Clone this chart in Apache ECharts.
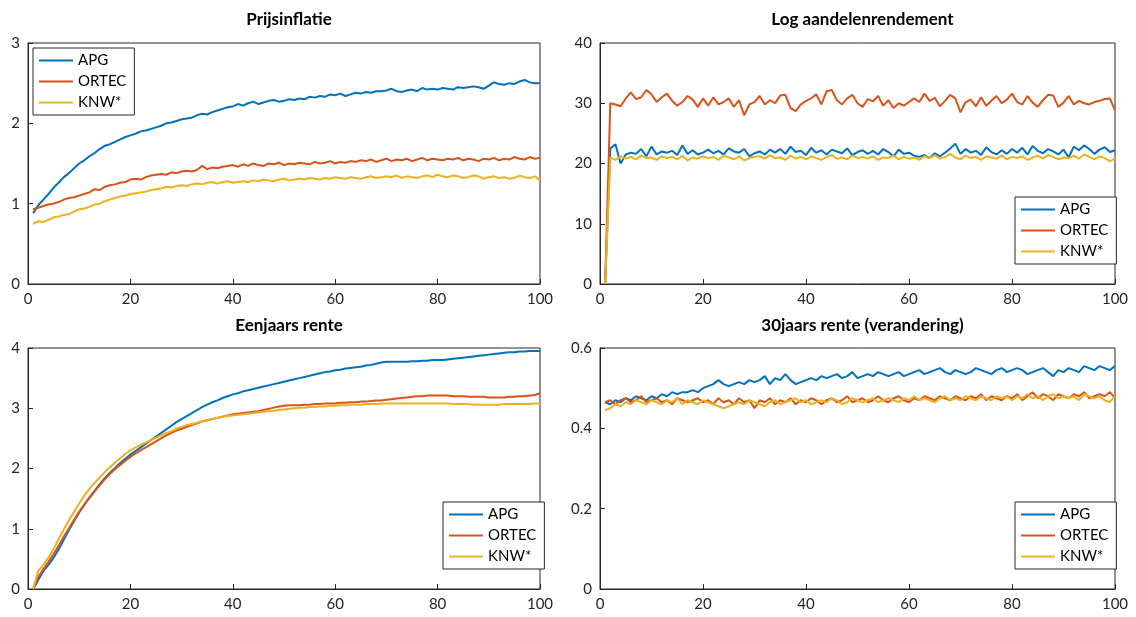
<!DOCTYPE html>
<html>
<head>
<meta charset="utf-8">
<script src="https://cdn.jsdelivr.net/npm/echarts@6/dist/echarts.min.js"></script>
<style>html,body{margin:0;padding:0;background:#fff}#chart{width:1136px;height:617px}</style>
</head>
<body>
<div id="chart"></div>
<script>
// Legend / series names
const seriesNames = ['APG', 'ORTEC', 'KNW*']
const titles = ['Prijsinflatie', 'Log aandelenrendement', 'Eenjaars rente', '30jaars rente (verandering)']

// Prijsinflatie
const inflAPG = [0.88,0.98,1.05,1.12,1.2,1.26,1.33,1.38,1.44,1.5,1.54,1.59,1.63,1.68,1.72,1.74,1.77,1.8,1.83,1.85,1.87,1.9,1.91,1.93,1.95,1.97,2.0,2.01,2.03,2.05,2.06,2.07,2.1,2.12,2.11,2.14,2.16,2.18,2.2,2.21,2.24,2.22,2.25,2.27,2.24,2.26,2.28,2.29,2.27,2.28,2.3,2.29,2.31,2.3,2.33,2.32,2.34,2.33,2.36,2.35,2.37,2.34,2.36,2.38,2.37,2.39,2.38,2.4,2.4,2.41,2.43,2.4,2.39,2.41,2.42,2.4,2.44,2.42,2.43,2.42,2.44,2.43,2.42,2.45,2.44,2.45,2.46,2.45,2.43,2.47,2.51,2.49,2.48,2.5,2.49,2.52,2.54,2.51,2.5,2.5]
const inflORTEC = [0.93,0.95,0.97,0.99,1.0,1.02,1.05,1.07,1.08,1.1,1.12,1.14,1.18,1.17,1.21,1.23,1.24,1.26,1.27,1.3,1.31,1.3,1.33,1.35,1.36,1.37,1.36,1.39,1.38,1.4,1.41,1.4,1.42,1.47,1.43,1.45,1.44,1.46,1.47,1.48,1.46,1.49,1.47,1.5,1.48,1.47,1.5,1.49,1.51,1.48,1.5,1.49,1.51,1.5,1.49,1.52,1.5,1.51,1.53,1.5,1.52,1.51,1.53,1.52,1.54,1.53,1.55,1.52,1.54,1.56,1.53,1.55,1.54,1.56,1.53,1.55,1.57,1.54,1.56,1.55,1.54,1.56,1.55,1.57,1.54,1.56,1.55,1.53,1.56,1.55,1.57,1.54,1.56,1.55,1.58,1.56,1.55,1.58,1.56,1.57]
const inflKNW = [0.75,0.78,0.77,0.8,0.83,0.84,0.86,0.87,0.9,0.93,0.94,0.96,0.99,1.0,1.03,1.05,1.07,1.09,1.1,1.12,1.13,1.14,1.15,1.17,1.18,1.19,1.21,1.2,1.22,1.23,1.22,1.24,1.25,1.24,1.26,1.27,1.25,1.27,1.28,1.26,1.27,1.28,1.27,1.29,1.28,1.3,1.29,1.28,1.3,1.31,1.29,1.3,1.31,1.3,1.32,1.31,1.3,1.32,1.31,1.33,1.32,1.31,1.33,1.32,1.31,1.33,1.34,1.32,1.33,1.34,1.33,1.35,1.32,1.34,1.33,1.32,1.34,1.35,1.33,1.36,1.34,1.33,1.35,1.34,1.32,1.33,1.35,1.34,1.31,1.33,1.34,1.32,1.33,1.31,1.32,1.35,1.33,1.32,1.34,1.29]

// Log aandelenrendement
const aandAPG = [0,22.5,23.2,20,21.5,21.8,21.6,22.4,21.2,22.8,21.5,22,21.8,22.1,21.4,23,21.6,22.2,21.5,21.8,22.3,21.7,22.1,21.5,22.5,22,21.8,22.4,21.2,21.7,22,21.5,22.3,21.8,22.4,21.6,22.8,21.9,22.1,21.4,22.6,21.8,22.2,21.5,22.3,22,21.7,22.5,21.4,21.9,22.2,21.6,22.1,21.5,22.4,21.9,21.2,22.3,21.6,21.8,21.3,21.1,21.4,20.9,21.7,21.2,21.8,22.5,23.3,21.6,22.4,21.8,22.1,21.4,22.7,21.9,21.5,22.2,21.6,22.4,21.8,22.6,21.5,22.9,22.1,21.7,22.4,22,21.5,22.3,21,22.8,22.2,23,22.4,21.6,22.3,22.7,21.9,22.2]
const aandORTEC = [0,30,29.8,29.5,30.8,31.8,30.7,31,32.2,31.5,30.2,31,31.6,30.4,29.6,30.2,31.2,30.6,29.4,30.8,29.6,31,29.8,30.2,30.8,29.4,30.5,28,29.8,30.2,31.2,29.8,30.5,30,31.3,31.4,29.2,28.7,29.8,30.4,30.8,31.5,29.8,32,32.2,30.5,29.8,30.8,31.4,30,29.4,30.7,30.3,31.2,29.6,30.5,29.2,30,29.6,30.2,30.8,30.2,31.6,30.4,30.9,29.5,30.4,31.4,30.8,28.5,30.2,30.6,29.5,31,29.6,30.4,31.2,30,30.6,31.6,30.2,29.8,31.2,30.1,29.4,30.5,31.4,31.3,29.4,30.1,31.2,29.8,30.4,30,29.8,30.2,30.4,30.7,30.8,28.8]
const aandKNW = [0,21,20.6,21.2,20.8,21.1,20.7,21.3,20.9,21,20.6,21.2,20.9,21.1,20.7,21.3,20.5,21,20.8,21.2,20.9,21.1,20.6,21.3,21,20.7,21.2,20.5,20.9,21.1,21.2,20.8,21.4,20.9,21,20.6,21.3,20.8,21.1,20.7,21.2,20.9,20.6,21.1,21.4,20.8,21,20.7,21.3,20.9,21.1,20.8,21.2,20.6,21,20.9,21.3,20.7,21.1,20.8,21,20.6,21.2,20.9,21.4,20.8,21.1,21.6,21,20.7,21.3,20.9,21.1,20.6,21.2,21,20.8,21.3,20.7,21.1,20.9,21.2,20.6,21,21.3,20.8,21.4,21.1,20.7,21,20.9,21.3,20.8,21.5,21.1,20.7,21.2,20.9,20.4,20.8]

// Eenjaars rente
const eenAPG = [0,0.15,0.3,0.4,0.52,0.66,0.82,0.98,1.13,1.27,1.4,1.52,1.63,1.74,1.84,1.93,2.01,2.09,2.16,2.23,2.29,2.35,2.41,2.47,2.53,2.59,2.65,2.71,2.77,2.82,2.87,2.92,2.97,3.02,3.06,3.1,3.13,3.17,3.2,3.23,3.25,3.28,3.3,3.32,3.34,3.36,3.38,3.4,3.42,3.44,3.46,3.48,3.5,3.52,3.54,3.56,3.58,3.6,3.61,3.63,3.64,3.66,3.67,3.68,3.69,3.71,3.72,3.74,3.76,3.77,3.77,3.77,3.77,3.77,3.78,3.78,3.79,3.79,3.8,3.8,3.8,3.81,3.82,3.83,3.84,3.85,3.86,3.87,3.88,3.89,3.9,3.91,3.92,3.93,3.93,3.94,3.94,3.95,3.95,3.95]
const eenORTEC = [0,0.2,0.33,0.45,0.58,0.72,0.87,1.01,1.15,1.28,1.4,1.51,1.62,1.72,1.82,1.91,1.99,2.06,2.13,2.19,2.25,2.3,2.35,2.4,2.45,2.5,2.55,2.59,2.63,2.66,2.69,2.72,2.75,2.78,2.8,2.82,2.84,2.86,2.88,2.9,2.91,2.92,2.93,2.94,2.95,2.97,2.99,3.01,3.03,3.04,3.05,3.05,3.05,3.06,3.06,3.07,3.07,3.08,3.08,3.08,3.09,3.09,3.1,3.1,3.11,3.11,3.12,3.13,3.13,3.14,3.15,3.16,3.17,3.18,3.19,3.2,3.2,3.21,3.21,3.21,3.21,3.21,3.2,3.2,3.2,3.19,3.19,3.19,3.19,3.18,3.18,3.18,3.18,3.19,3.19,3.2,3.2,3.21,3.22,3.25]
const eenKNW = [0,0.3,0.4,0.52,0.67,0.83,0.99,1.14,1.28,1.42,1.55,1.66,1.76,1.85,1.94,2.02,2.1,2.17,2.24,2.3,2.35,2.39,2.43,2.47,2.51,2.55,2.59,2.62,2.66,2.69,2.72,2.74,2.76,2.78,2.8,2.82,2.84,2.86,2.87,2.88,2.89,2.9,2.91,2.92,2.93,2.94,2.95,2.96,2.97,2.98,2.99,3.0,3.01,3.01,3.02,3.02,3.03,3.03,3.04,3.04,3.05,3.05,3.06,3.06,3.06,3.07,3.07,3.07,3.08,3.08,3.08,3.08,3.08,3.08,3.08,3.08,3.08,3.08,3.08,3.08,3.08,3.08,3.07,3.07,3.07,3.07,3.06,3.06,3.06,3.06,3.06,3.06,3.07,3.07,3.07,3.07,3.07,3.07,3.08,3.08]

// 30jaars rente (verandering)
const dertigAPG = [0.465,0.46,0.47,0.465,0.475,0.47,0.48,0.475,0.47,0.48,0.475,0.485,0.48,0.49,0.485,0.49,0.49,0.495,0.49,0.5,0.505,0.51,0.52,0.51,0.505,0.51,0.515,0.51,0.52,0.515,0.52,0.53,0.51,0.525,0.52,0.535,0.52,0.51,0.515,0.52,0.525,0.52,0.53,0.525,0.53,0.535,0.525,0.53,0.54,0.525,0.53,0.535,0.53,0.54,0.535,0.53,0.535,0.54,0.53,0.535,0.54,0.545,0.535,0.54,0.545,0.55,0.54,0.535,0.545,0.54,0.535,0.54,0.55,0.545,0.54,0.535,0.545,0.55,0.54,0.545,0.55,0.545,0.535,0.54,0.545,0.55,0.54,0.53,0.545,0.54,0.55,0.545,0.54,0.555,0.55,0.545,0.555,0.55,0.545,0.555]
const dertigORTEC = [0.465,0.47,0.46,0.47,0.475,0.465,0.47,0.48,0.465,0.47,0.475,0.465,0.47,0.46,0.475,0.47,0.465,0.47,0.475,0.465,0.47,0.46,0.475,0.465,0.47,0.46,0.475,0.465,0.47,0.45,0.47,0.465,0.475,0.46,0.47,0.465,0.475,0.46,0.47,0.465,0.475,0.47,0.46,0.47,0.475,0.465,0.47,0.48,0.465,0.47,0.475,0.465,0.47,0.48,0.47,0.465,0.475,0.48,0.47,0.465,0.475,0.47,0.48,0.475,0.47,0.48,0.475,0.47,0.48,0.475,0.47,0.48,0.475,0.485,0.47,0.48,0.475,0.47,0.48,0.475,0.485,0.47,0.48,0.49,0.475,0.485,0.48,0.47,0.485,0.48,0.475,0.485,0.48,0.49,0.475,0.48,0.485,0.48,0.49,0.475]
const dertigKNW = [0.445,0.45,0.46,0.455,0.465,0.46,0.47,0.465,0.46,0.47,0.465,0.46,0.47,0.465,0.475,0.46,0.47,0.465,0.46,0.47,0.465,0.46,0.455,0.45,0.455,0.46,0.465,0.46,0.47,0.465,0.46,0.455,0.465,0.47,0.46,0.465,0.47,0.475,0.465,0.47,0.46,0.465,0.47,0.465,0.475,0.47,0.46,0.465,0.475,0.47,0.465,0.47,0.475,0.465,0.47,0.475,0.47,0.465,0.475,0.47,0.48,0.47,0.475,0.47,0.465,0.475,0.48,0.47,0.475,0.47,0.48,0.475,0.47,0.48,0.475,0.47,0.48,0.475,0.48,0.47,0.48,0.475,0.485,0.475,0.48,0.47,0.48,0.485,0.475,0.48,0.475,0.48,0.47,0.485,0.48,0.475,0.48,0.47,0.465,0.48]

const panels = [
  { data: [inflAPG, inflORTEC, inflKNW], yMax: 3, yInt: 1 },
  { data: [aandAPG, aandORTEC, aandKNW], yMax: 40, yInt: 10 },
  { data: [eenAPG, eenORTEC, eenKNW], yMax: 4, yInt: 1 },
  { data: [dertigAPG, dertigORTEC, dertigKNW], yMax: 0.6, yInt: 0.2 }
]

const colors = ['#0072BD', '#D95319', '#EDB120']
const font = 'Lato, "Open Sans", sans-serif'
const grids = [
  { left: 28, top: 43, width: 512, height: 241 },
  { left: 600, top: 43, width: 515, height: 241 },
  { left: 28, top: 348, width: 512, height: 241 },
  { left: 600, top: 348, width: 515, height: 241 }
]
const legendPos = [
  { left: 33, top: 48 },
  { left: 1015, top: 197 },
  { left: 443, top: 502 },
  { left: 1015, top: 502 }
]

const chart = echarts.init(document.getElementById('chart'))
const axisCommon = {
  axisLine: { show: true, lineStyle: { color: '#262626' } },
  axisTick: { inside: true, length: 5, lineStyle: { color: '#262626' } },
  axisLabel: { color: '#262626', fontSize: 15, fontFamily: font },
  splitLine: { show: false }
}

const option = {
  animation: false,
  color: colors,
  title: titles.map((t, i) => ({
    text: t,
    left: grids[i].left + grids[i].width / 2,
    textAlign: 'center',
    top: i < 2 ? 6 : 312,
    textStyle: { fontSize: 17, fontWeight: 'bold', color: '#000', fontFamily: font }
  })),
  grid: grids.map(g => ({ ...g, show: true, borderColor: '#262626', borderWidth: 1 })),
  legend: legendPos.map(p => ({
    ...p,
    orient: 'vertical',
    data: seriesNames,
    itemWidth: 34,
    itemHeight: 10,
    itemGap: 6,
    padding: [5, 8, 5, 6],
    borderColor: '#262626',
    borderWidth: 1,
    backgroundColor: '#fff',
    icon: 'path://M0,4 L34,4 L34,6 L0,6 Z',
    textStyle: { fontSize: 15, color: '#000', fontFamily: font }
  })),
  xAxis: grids.map((g, i) => ({
    type: 'value', gridIndex: i, min: 0, max: 100, interval: 20, ...axisCommon
  })),
  yAxis: panels.map((p, i) => ({
    type: 'value', gridIndex: i, min: 0, max: p.yMax, interval: p.yInt, ...axisCommon
  })),
  series: panels.flatMap((p, i) => p.data.map((vals, k) => ({
    name: seriesNames[k],
    type: 'line',
    xAxisIndex: i,
    yAxisIndex: i,
    showSymbol: false,
    lineStyle: { width: 2 },
    data: vals.map((v, j) => [j + 1, v])
  })))
}
chart.setOption(option)
window.addEventListener('resize', () => chart.resize())
</script>
</body>
</html>
